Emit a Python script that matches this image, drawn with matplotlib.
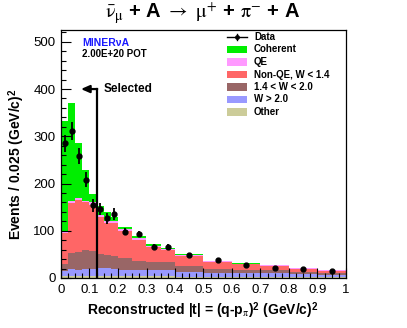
import matplotlib
matplotlib.use("Agg")
import matplotlib.pyplot as plt
import numpy as np
from matplotlib.patches import Rectangle
from matplotlib.lines import Line2D
from matplotlib.ticker import MultipleLocator

plt.rcParams['font.family'] = ['Liberation Sans', 'DejaVu Sans']
plt.rcParams['mathtext.fontset'] = 'stix'

# ---- data ----
edges = [0, 0.025, 0.05, 0.075, 0.1, 0.125, 0.15, 0.175, 0.2,
         0.25, 0.3, 0.35, 0.4, 0.5, 0.6, 0.7, 0.8, 0.9, 1.0]
other    = [4, 4, 4, 4, 4, 4, 4, 4, 4, 4, 4, 4, 3, 3, 3, 3, 2, 2]
w_gt_2   = [10, 14, 13, 15, 14, 17, 17, 14, 13, 12, 12, 12, 9, 8, 8, 8, 7, 5]
w_14_20  = [16, 35, 38, 41, 40, 29, 27, 29, 25, 19, 17, 17, 13, 8, 6, 5, 4, 4]
nonqe    = [65, 105, 110, 100, 97, 79, 68, 69, 57, 46, 32, 26, 22, 14, 12, 9, 7, 4]
qe       = [4, 4, 4, 4, 5, 4, 5, 5, 4, 4, 3, 3, 2, 2, 1, 2, 1, 1]
coherent = [234, 208, 117, 65, 18, 20, 18, 9, 5, 3, 3, 2, 2, 2, 2, 1, 1, 0.5]
data     = [285, 312, 258, 208, 154, 146, 126, 136, 98, 93, 65, 65, 48, 39, 27, 21, 19, 15]
data_err = [18, 19, 17, 16, 14, 13, 12, 13, 7, 7, 6, 6, 3.5, 3, 2.6, 2.3, 2.2, 2]

labels = ['Coherent', 'QE', 'Non-QE, W < 1.4', '1.4 < W < 2.0', 'W > 2.0', 'Other']
colors = ['#00ee00', '#ff99ff', '#ff6666', '#996666', '#9999ff', '#cccc99']
selected_cut = 0.125
selected_y = 400

W, H = 407, 328
fig = plt.figure(figsize=(W / 100, H / 100), dpi=100)
L, R, T, B = 61, 346, 30, 278
ax = fig.add_axes([L / W, 1 - B / H, (R - L) / W, (B - T) / H])

edges_a = np.array(edges)
stack_bottom_to_top = [other, w_gt_2, w_14_20, nonqe, qe, coherent]
stack_colors = ['#cccc99', '#9999ff', '#996666', '#ff6666', '#ff99ff', '#00ee00']
base = np.zeros(len(data))
for vals, c in zip(stack_bottom_to_top, stack_colors):
    top = base + np.array(vals, dtype=float)
    ax.stairs(top, edges_a, baseline=base, fill=True, color=c, lw=0)
    base = top

centers = 0.5 * (edges_a[:-1] + edges_a[1:])
ax.errorbar(centers, data, yerr=data_err, fmt='o', color='k', ms=3.5,
            elinewidth=1.3, capsize=0, zorder=5)

# selection line + arrow
ax.plot([selected_cut, selected_cut], [0, selected_y], color='k', lw=1.6, zorder=6)
ax.annotate('', xy=(0.07, selected_y), xytext=(selected_cut + 0.002, selected_y),
            arrowprops=dict(arrowstyle='-|>,head_length=0.5,head_width=0.22',
                            color='k', lw=1.6, shrinkA=0, shrinkB=0), zorder=6)
ax.text(0.148, selected_y, 'Selected', fontsize=8.5, fontweight='bold',
        va='center', ha='left')

ax.set_xlim(0, 1)
ax.set_ylim(0, 525)
ax.xaxis.set_major_locator(MultipleLocator(0.1))
ax.xaxis.set_minor_locator(MultipleLocator(0.025))
ax.yaxis.set_major_locator(MultipleLocator(100))
ax.yaxis.set_minor_locator(MultipleLocator(20))
ax.tick_params(which='both', direction='in', top=False, right=False, labelsize=9.5)
ax.tick_params(which='major', length=7, width=0.8)
ax.tick_params(which='minor', length=3.5, width=0.8)
ax.tick_params(axis='x', pad=4)
ax.tick_params(axis='y', pad=4)
ax.set_xticks(np.arange(0, 1.01, 0.1))
ax.set_xticklabels(['0', '0.1', '0.2', '0.3', '0.4', '0.5', '0.6', '0.7', '0.8', '0.9', '1'])
for s in ax.spines.values():
    s.set_linewidth(0.9)

fig.text(202.5 / W, 1 - 311 / H,
         r'Reconstructed |t| = (q-p$_{\mathrm{\pi}}$)$^{\mathregular{2}}$ (GeV/c)$^{\mathregular{2}}$',
         ha='center', va='center', fontsize=10, fontweight='bold')
fig.text(17 / W, 1 - 164 / H, r'Events / 0.025 (GeV/c)$^{\mathregular{2}}$',
         ha='center', va='center', rotation=90, fontsize=10, fontweight='bold')

fig.text(202.5 / W, 1 - 13 / H,
         r'$\bar{\mathrm{\nu}}_{\mathrm{\mu}}$ + A $\rightarrow$ $\mathrm{\mu}^{+}$ + $\mathrm{\pi}^{-}$ + A',
         ha='center', va='center', fontsize=14.5, fontweight='bold')

fig.text(82 / W, 1 - 43 / H, 'MINERνA', color='#1a1aff', fontsize=7.5,
         fontweight='bold', ha='left', va='center')
fig.text(82 / W, 1 - 54 / H, '2.00E+20 POT', color='k', fontsize=7,
         fontweight='bold', ha='left', va='center')

# legend (manual)
leg_x0, leg_w, leg_txt = 227, 20, 254
y0, dy = 37, 12.5
yc = 1 - y0 / H
fig.add_artist(Line2D([leg_x0 / W, (leg_x0 + leg_w) / W], [yc, yc], color='k', lw=1,
                      transform=fig.transFigure))
fig.add_artist(Line2D([(leg_x0 + leg_w / 2) / W], [yc], color='k', marker='o', ms=2.5,
                      transform=fig.transFigure))
fig.add_artist(Line2D([(leg_x0 + leg_w / 2) / W] * 2, [yc - 3 / H, yc + 3 / H], color='k', lw=1,
                      transform=fig.transFigure))
fig.text(leg_txt / W, yc, 'Data', fontsize=7, fontweight='bold', ha='left', va='center')
for i, (lab, c) in enumerate(zip(labels, colors)):
    ycp = y0 + dy * (i + 1)
    fig.add_artist(Rectangle((leg_x0 / W, 1 - (ycp + 3.8) / H), leg_w / W, 7.6 / H,
                             facecolor=c, edgecolor='none', transform=fig.transFigure))
    fig.text(leg_txt / W, 1 - ycp / H, lab, fontsize=7, fontweight='bold',
             ha='left', va='center')

fig.savefig('out.png', dpi=100)
